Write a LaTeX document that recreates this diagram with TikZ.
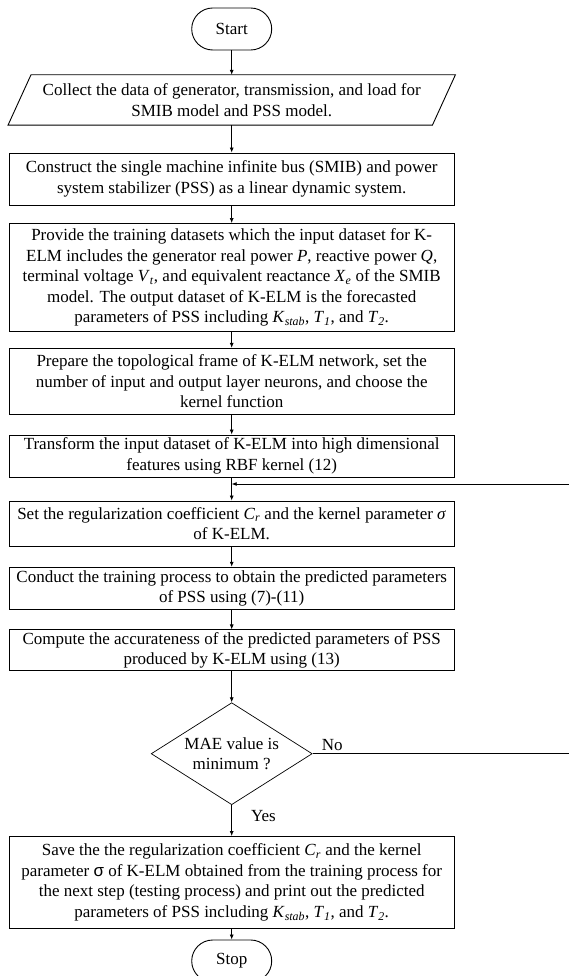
\documentclass[tikz,border=0pt]{standalone}
\usepackage{fontspec}
\setmainfont{Liberation Serif}
\newfontfamily\sgfont{Liberation Sans}
\usepackage{tikz}
\usetikzlibrary{shapes.geometric,arrows.meta}

\newcommand{\itsub}[2]{\textit{#1}\textsubscript{\textit{#2}}}

\begin{document}
\begin{tikzpicture}[x=1pt,y=-1pt]
\tikzstyle{every node}+=[font=\fontsize{17}{20.5}\selectfont]
\tikzstyle{proc}=[draw=black, line width=0.9pt, rectangle, minimum width=445pt, align=center, inner sep=1pt]
\tikzstyle{term}=[draw=black, line width=0.9pt, rectangle, rounded corners=21pt, minimum width=80pt, minimum height=42pt, inner sep=0pt]
\tikzstyle{flow}=[draw=black, line width=0.7pt, -{Latex[length=5pt,width=4pt]}]
\tikzstyle{lbl}=[inner sep=1pt]
\useasboundingbox (0,0) rectangle (569,976);
\node[term] (start) at (231.7,29) {Start};
\node[align=center, minimum width=424pt, minimum height=50pt, inner sep=0pt] (collect) at (231.7,100)
  {Collect the data of generator, transmission, and load for\\SMIB model and PSS model.};
\draw[line width=0.9pt] ([xshift=11.5pt]collect.north west) -- ([xshift=11.5pt]collect.north east)
  -- ([xshift=-11.5pt]collect.south east) -- ([xshift=-11.5pt]collect.south west) -- cycle;
\node[proc, minimum height=52pt] (construct) at (231.7,179)
  {Construct the single machine infinite bus (SMIB) and power\\system stabilizer (PSS) as a linear dynamic system.};
\node[proc, minimum height=108pt] (provide) at (231.7,277.5)
  {Provide the training datasets which the input dataset for K-\\ELM includes the generator real power \textit{P}, reactive power \textit{Q},\\terminal voltage \itsub{V}{t}, and equivalent reactance \itsub{X}{e} of the SMIB\\model. The output dataset of K-ELM is the forecasted\\parameters of PSS including \itsub{K}{stab}, \itsub{T}{1}, and \itsub{T}{2}.};
\node[proc, minimum height=66pt] (prepare) at (231.7,381.3)
  {Prepare the topological frame of K-ELM network, set the\\number of input and output layer neurons, and choose the\\kernel function};
\node[proc, minimum height=42pt] (transform) at (231.7,456)
  {Transform the input dataset of K-ELM into high dimensional\\features using RBF kernel (12)};
\coordinate (join) at (231.7,484);
\node[proc, minimum height=45pt] (setreg) at (231.7,523.5)
  {Set the regularization coefficient \itsub{C}{r} and the kernel parameter \textit{σ}\\of K-ELM.};
\node[proc, minimum height=42pt] (conduct) at (231.7,588.2)
  {Conduct the training process to obtain the predicted parameters\\of PSS using (7)-(11)};
\node[proc, minimum height=41pt] (compute) at (231.7,650.4)
  {Compute the accurateness of the predicted parameters of PSS\\produced by K-ELM using (13)};
\node[draw=black, line width=0.7pt, diamond, aspect=1.6, minimum width=161pt, minimum height=102pt, inner sep=0pt, align=center] (mae) at (231.7,753.7)
  {MAE value is\\minimum ?};
\node[proc, minimum height=92pt] (save) at (231.7,882.5)
  {Save the the regularization coefficient \itsub{C}{r} and the kernel\\parameter {\sgfont σ} of K-ELM obtained from the training process for\\the next step (testing process) and print out the predicted\\parameters of PSS including \itsub{K}{stab}, \itsub{T}{1}, and \itsub{T}{2}.};
\node[term] (stop) at (231.7,961) {Stop};
\draw[flow] (start) -- (collect);
\draw[flow] (collect) -- (construct);
\draw[flow] (construct) -- (provide);
\draw[flow] (provide) -- (prepare);
\draw[flow] (prepare) -- (transform);
\draw[flow] (transform) -- (setreg);
\draw[flow] (setreg) -- (conduct);
\draw[flow] (conduct) -- (compute);
\draw[flow] (compute) -- (mae);
\draw[flow] (mae) -- node[lbl, pos=0.35, right=18pt] {Yes} (save);
\draw[flow] (save) -- (stop);
\draw[flow] (mae.east) -- node[lbl, pos=0, anchor=south west, xshift=8pt, yshift=2pt] {No} ++(264,0) |- (join);
\end{tikzpicture}
\end{document}
